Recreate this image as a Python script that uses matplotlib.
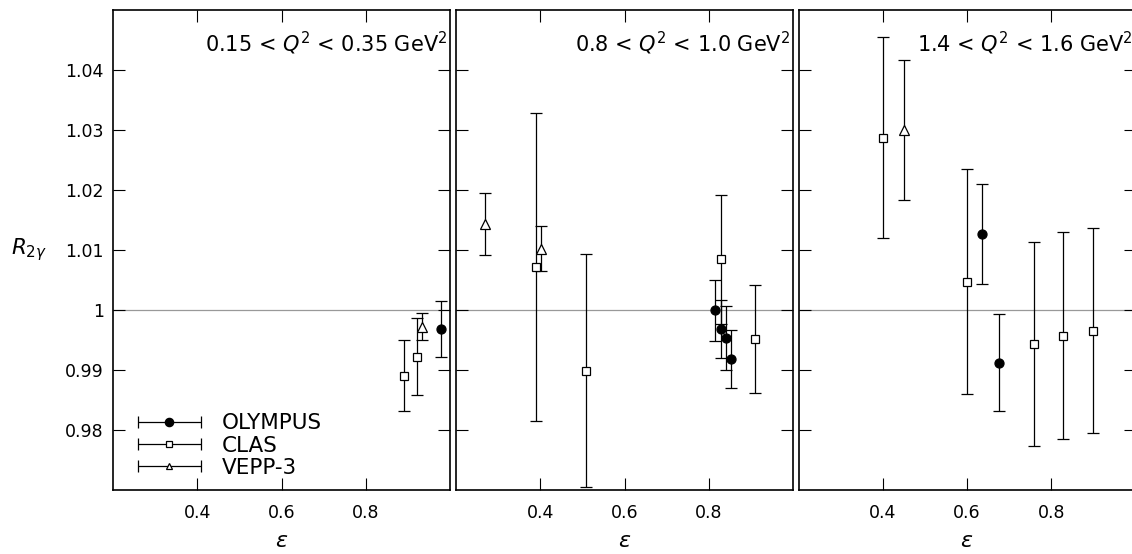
import numpy as np
import matplotlib
matplotlib.use("Agg")
import matplotlib.pyplot as plt
from matplotlib.container import ErrorbarContainer
from matplotlib.legend_handler import HandlerErrorbar

plt.rcParams['font.family'] = ['DejaVu Sans']
plt.rcParams['mathtext.fontset'] = 'dejavusans'

# Q^2 bins (one panel each)
bin_labels = ["0.15 < $Q^2$ < 0.35 GeV$^2$",
              "0.8 < $Q^2$ < 1.0 GeV$^2$",
              "1.4 < $Q^2$ < 1.6 GeV$^2$"]

# OLYMPUS
olympus_eps = [[0.978], [0.815, 0.829, 0.840, 0.853], [0.635, 0.675]]
olympus_R = [[0.9968], [0.9999, 0.9968, 0.9953, 0.9918], [1.0126, 0.9912]]
olympus_err = [[0.0046], [0.0051, 0.0049, 0.0053, 0.0049], [0.0083, 0.0081]]

# CLAS
clas_eps = [[0.890, 0.921], [0.389, 0.508, 0.830, 0.910], [0.400, 0.600, 0.760, 0.829, 0.900]]
clas_R = [[0.9890, 0.9922], [1.0071, 0.9898, 1.0084, 0.9952], [1.0287, 1.0047, 0.9943, 0.9957, 0.9965]]
clas_err = [[0.0059, 0.0064], [0.0256, 0.0194, 0.0108, 0.0090], [0.0168, 0.0188, 0.0170, 0.0172, 0.0171]]

# VEPP-3
vepp_eps = [[0.933], [0.270, 0.402], [0.451]]
vepp_R = [[0.9972], [1.0143, 1.0102], [1.0300]]
vepp_err = [[0.0023], [0.0051, 0.0038], [0.0117]]

y_ticks = [0.98, 0.99, 1.0, 1.01, 1.02, 1.03, 1.04]
y_ticklabels = ["0.98", "0.99", "1", "1.01", "1.02", "1.03", "1.04"]
x_ticks = [0.4, 0.6, 0.8]
x_ticklabels = ["0.4", "0.6", "0.8"]

W, H = 1132, 554
fig = plt.figure(figsize=(W / 100, H / 100), dpi=100)
panel_left = [113, 456, 798.5]
panel_w, panel_h, panel_bottom = 337, 480, 64.3

err_kw = dict(color='black', elinewidth=0.9, capsize=4.5, capthick=0.9, mew=0.9, linestyle='none')

axes = []
for i in range(3):
    ax = fig.add_axes([panel_left[i] / W, panel_bottom / H, panel_w / W, panel_h / H])
    axes.append(ax)
    ax.axhline(1.0, color='#999999', lw=0.9, zorder=0)

    ax.errorbar(olympus_eps[i], olympus_R[i], yerr=olympus_err[i], marker='o', ms=6.5,
                mfc='black', mec='black', **err_kw)
    ax.errorbar(clas_eps[i], clas_R[i], yerr=clas_err[i], marker='s', ms=6,
                mfc='white', mec='black', **err_kw)
    ax.errorbar(vepp_eps[i], vepp_R[i], yerr=vepp_err[i], marker='^', ms=6.5,
                mfc='white', mec='black', **err_kw)

    ax.set_xlim(0.2, 1.0)
    ax.set_ylim(0.97, 1.05)
    ax.set_xticks(x_ticks)
    ax.set_yticks(y_ticks)
    ax.set_xticklabels(x_ticklabels)
    if i == 0:
        ax.set_yticklabels(y_ticklabels)
    else:
        ax.set_yticklabels([])
    ax.tick_params(direction='in', length=8.6, width=0.8, top=True, right=True, labelsize=12.5)
    ax.tick_params(axis='y', pad=6.5)
    ax.tick_params(axis='x', pad=10)
    for s in ax.spines.values():
        s.set_linewidth(1.2)

    ax.set_xlabel(r"$\epsilon$", fontsize=16, labelpad=7)
    ax.text(0.993, 0.9125, bin_labels[i], transform=ax.transAxes, ha='right', va='baseline',
            fontsize=15)

axes[0].set_ylabel(r"$R_{2\gamma}$", rotation=0, fontsize=15.5, ha='center', va='center')
axes[0].yaxis.set_label_coords(-0.25, 0.5)

# legend with horizontal error bars as handles (proxies, nothing drawn)
h_oly = axes[0].errorbar([np.nan], [np.nan], xerr=[1], marker='o', ms=6, mfc='black', mec='black', **err_kw)
h_clas = axes[0].errorbar([np.nan], [np.nan], xerr=[1], marker='s', ms=4.5, mfc='white', mec='black', **err_kw)
h_vepp = axes[0].errorbar([np.nan], [np.nan], xerr=[1], marker='^', ms=4.5, mfc='white', mec='black', **err_kw)
axes[0].legend([h_oly, h_clas, h_vepp], ["OLYMPUS", "CLAS", "VEPP-3"],
               handler_map={ErrorbarContainer: HandlerErrorbar(xerr_size=1.45)},
               loc='lower left', bbox_to_anchor=(0.075, 0.025), frameon=False, fontsize=15.5,
               borderpad=0, borderaxespad=0, handlelength=2.9, handletextpad=1.0,
               labelspacing=0.1, numpoints=1)

fig.savefig("out.png", dpi=100)
